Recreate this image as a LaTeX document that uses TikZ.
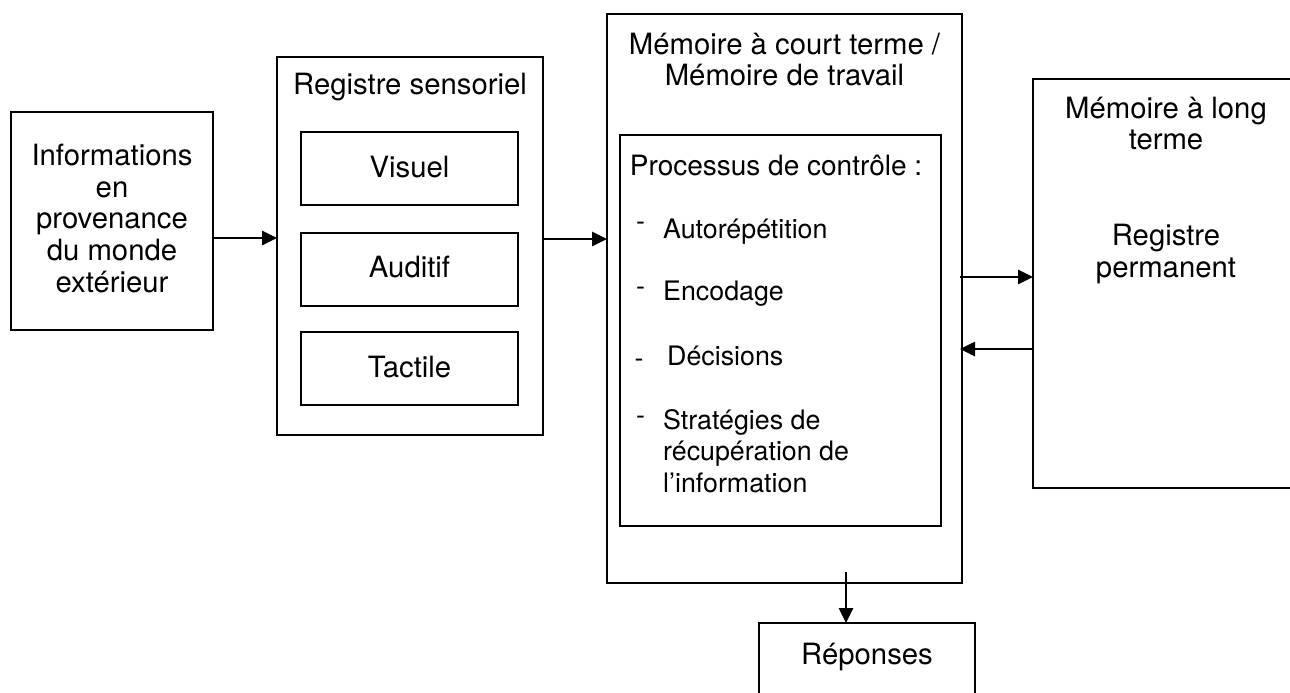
\documentclass[tikz,border=0pt]{standalone}
\usepackage{fontspec}
\setmainfont{TeX Gyre Heros}
\usetikzlibrary{arrows.meta}
\tikzset{
  box/.style={draw, line width=2.7pt, rectangle, inner sep=0pt, outer sep=0pt},
  lbl/.style={anchor=base, inner sep=0pt, font=\fontsize{29.3}{31}\selectfont},
  proclbl/.style={anchor=base, inner sep=0pt, font=\fontsize{28}{31}\selectfont},
  item/.style={anchor=base west, inner sep=0pt, font=\fontsize{26.8}{31.5}\selectfont},
  arr/.style={line width=2.6pt, -{Triangle[length=15pt,width=14pt]}},
}
\begin{document}
\begin{tikzpicture}[x=1pt,y=-1pt]
\useasboundingbox (0,0) rectangle (1290,693);
\clip (0,0) rectangle (1290,693);
% boxes
\node[box, minimum width=202pt, minimum height=218pt] (info) at (112,221) {};
\node[box, minimum width=266pt, minimum height=378pt] (reg) at (410,246) {};
\node[box, minimum width=217pt, minimum height=73pt] (vis) at (409.5,168.5) {};
\node[box, minimum width=217pt, minimum height=73pt] (aud) at (409.5,269.5) {};
\node[box, minimum width=217pt, minimum height=73pt] (tac) at (409.5,368.5) {};
\node[box, minimum width=355pt, minimum height=569pt] (mct) at (784.5,298.5) {};
\node[box, minimum width=321pt, minimum height=391pt] (proc) at (780.5,330.5) {};
\node[box, minimum width=267pt, minimum height=409pt] (mlt) at (1166.5,283.5) {};
\node[box, minimum width=216pt, minimum height=100pt] (rep) at (867,673) {};
% texts
\node[lbl] at (112,165) {Informations};
\node[lbl] at (112,197) {en};
\node[lbl] at (112,228) {provenance};
\node[lbl] at (112,260) {du monde};
\node[lbl] at (112,292) {extérieur};
\node[lbl] at (410,95) {Registre sensoriel};
\node[lbl] at (409.5,177) {Visuel};
\node[lbl] at (409.5,277.5) {Auditif};
\node[lbl] at (409.5,377) {Tactile};
\node[lbl] at (784.5,55) {Mémoire à court terme /};
\node[lbl] at (784.5,85) {Mémoire de travail};
\node[proclbl] at (776,175) {Processus de contrôle :};
\node[item, anchor=base] at (640.5,230.5) {-};
\node[item] at (663,238) {Autorépétition};
\node[item, anchor=base] at (640.5,295.5) {-};
\node[item] at (663,300) {Encodage};
\node[item, anchor=base] at (639,367.5) {-};
\node[item] at (667,365) {Décisions};
\node[item, anchor=base] at (640.5,424.5) {-};
\node[item] at (663,429) {Stratégies de};
\node[item] at (663,460.5) {récupération de};
\node[item] at (663,492) {l’information};
\node[lbl] at (1166,118) {Mémoire à long};
\node[lbl] at (1166,149) {terme};
\node[lbl] at (1166,245) {Registre};
\node[lbl] at (1166,277) {permanent};
\node[lbl] at (867,664) {Réponses};
% arrows
\coordinate (ya) at (0,238);
\coordinate (yb) at (0,239);
\coordinate (yc) at (0,277);
\coordinate (yd) at (0,349);
\coordinate (xe) at (846,572);
\draw[arr] (info.east |- ya) -- (reg.west |- ya);
\draw[arr] (reg.east |- yb) -- (mct.west |- yb);
\draw[arr] ([xshift=-2pt]mct.east |- yc) -- (mlt.west |- yc);
\draw[arr] (mlt.west |- yd) -- ([xshift=-2pt]mct.east |- yd);
\draw[arr] (xe) -- (xe |- rep.north);
\end{tikzpicture}
\end{document}
